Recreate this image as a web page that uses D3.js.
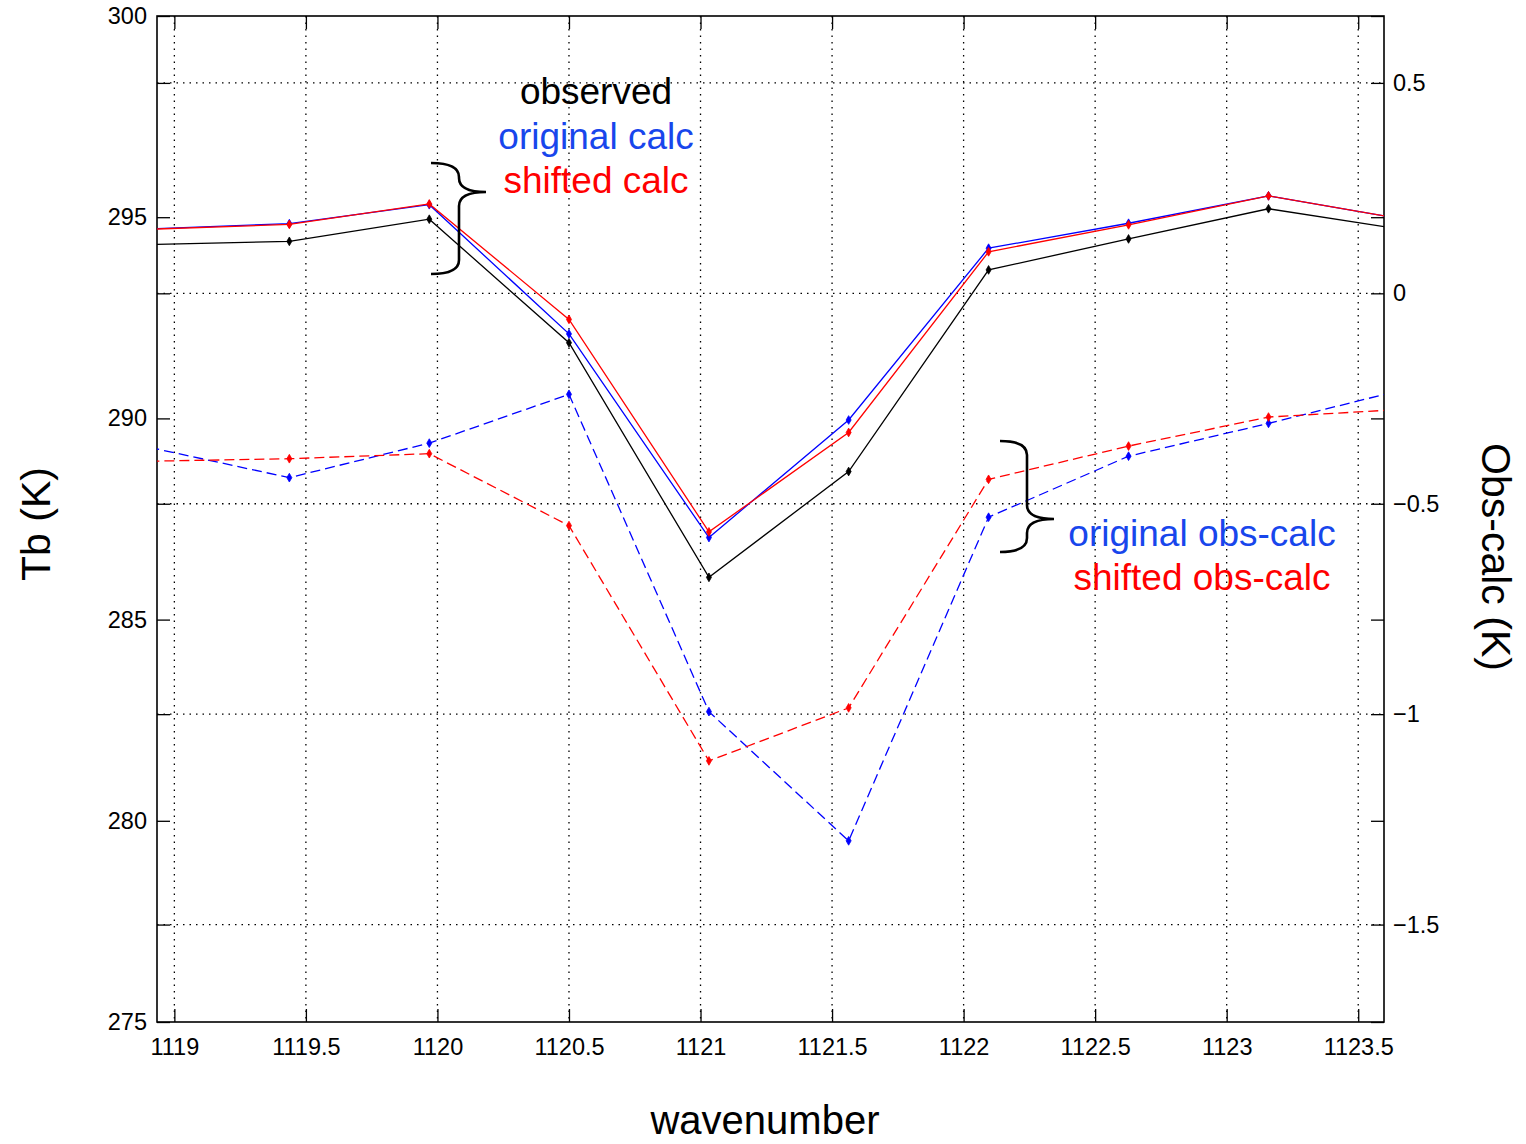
<!DOCTYPE html>
<html>
<head>
<meta charset="utf-8">
<script src="https://cdn.jsdelivr.net/npm/d3@7"></script>
<style>
  body { margin: 0; background: #fff; }
  text { font-family: "Liberation Sans", Arial, Helvetica, sans-serif; }
</style>
</head>
<body>
<svg id="chart" width="1526" height="1144"></svg>
<script>
// channel positions (cm-1)
const wavenumber = [1118.905, 1119.437, 1119.969, 1120.500, 1121.032, 1121.563, 1122.095, 1122.627, 1123.159, 1123.690];
// brightness temperatures, left axis (K)
const observed     = [294.32, 294.40, 294.95, 291.88, 286.05, 288.68, 293.69, 294.46, 295.21, 294.67];
const originalCalc = [294.71, 294.84, 295.31, 292.10, 287.04, 289.96, 294.23, 294.85, 295.53, 294.93];
const shiftedCalc  = [294.70, 294.82, 295.33, 292.46, 287.18, 289.65, 294.14, 294.81, 295.53, 294.93];
// obs - calc, right axis (K)
const originalDiff = [-0.366, -0.438, -0.356, -0.240, -0.994, -1.301, -0.532, -0.387, -0.309, -0.226];
const shiftedDiff  = [-0.399, -0.393, -0.381, -0.552, -1.111, -0.985, -0.442, -0.363, -0.294, -0.275];

const xTicks = [1119, 1119.5, 1120, 1120.5, 1121, 1121.5, 1122, 1122.5, 1123, 1123.5];
const yLeftTicks = [275, 280, 285, 290, 295, 300];
const yRightTicks = [-1.5, -1, -0.5, 0, 0.5];

const svg = d3.select("#chart");
const pLeft = 157, pRight = 1384, pTop = 16, pBottom = 1022;
const tickLen = 13;

const x = d3.scaleLinear().domain([1118.934, 1123.598]).range([pLeft, pRight]);
const yL = d3.scaleLinear().domain([275, 300]).range([pBottom, pTop]);
const yR = d3.scaleLinear().domain([-1.7315, 0.659]).range([pBottom, pTop]);

svg.append("defs").append("clipPath").attr("id", "plotclip")
  .append("rect").attr("x", pLeft).attr("y", pTop)
  .attr("width", pRight - pLeft).attr("height", pBottom - pTop);

// dotted grid: vertical at x ticks, horizontal at right-axis ticks
const grid = svg.append("g").attr("stroke", "#000").attr("stroke-width", 1.3)
  .attr("stroke-dasharray", "1.5,5");
grid.selectAll(".gx").data(xTicks).enter().append("line")
  .attr("x1", d => x(d)).attr("x2", d => x(d))
  .attr("y1", pTop).attr("y2", pBottom);
grid.selectAll(".gy").data(yRightTicks).enter().append("line")
  .attr("x1", pLeft).attr("x2", pRight)
  .attr("y1", d => yR(d)).attr("y2", d => yR(d));

// axes with inward ticks
const axisL = d3.axisLeft(yL).tickValues(yLeftTicks).tickSizeInner(-tickLen).tickSizeOuter(0).tickPadding(10).tickFormat(d3.format("d"));
const axisL2 = d3.axisRight(yL).tickValues(yLeftTicks).tickSizeInner(-tickLen).tickSizeOuter(0).tickFormat("");
const axisR = d3.axisRight(yR).tickValues(yRightTicks).tickSizeInner(-tickLen).tickSizeOuter(0).tickPadding(9)
  .tickFormat(d => d < 0 ? "\u2212" + Math.abs(d) : String(d));
const axisR2 = d3.axisLeft(yR).tickValues(yRightTicks).tickSizeInner(-tickLen).tickSizeOuter(0).tickFormat("");
const axisB = d3.axisBottom(x).tickValues(xTicks).tickSizeInner(-tickLen).tickSizeOuter(0).tickPadding(16).tickFormat(d => String(d));
const axisT = d3.axisTop(x).tickValues(xTicks).tickSizeInner(-tickLen).tickSizeOuter(0).tickFormat("");

function styleAxis(g) {
  g.select(".domain").remove();
  g.selectAll(".tick line").attr("stroke", "#000").attr("stroke-width", 1.3);
  g.selectAll(".tick text").attr("fill", "#000").style("font-size", "23.5px")
    .style("font-family", "'Liberation Sans', Arial, sans-serif");
}
svg.append("g").attr("transform", `translate(${pLeft},0)`).call(axisL).call(styleAxis);
svg.append("g").attr("transform", `translate(${pRight},0)`).call(axisL2).call(styleAxis);
svg.append("g").attr("transform", `translate(${pRight},0)`).call(axisR).call(styleAxis);
svg.append("g").attr("transform", `translate(${pLeft},0)`).call(axisR2).call(styleAxis);
svg.append("g").attr("transform", `translate(0,${pBottom})`).call(axisB).call(styleAxis);
svg.append("g").attr("transform", `translate(0,${pTop})`).call(axisT).call(styleAxis);

svg.append("rect").attr("x", pLeft).attr("y", pTop)
  .attr("width", pRight - pLeft).attr("height", pBottom - pTop)
  .attr("fill", "none").attr("stroke", "#000").attr("stroke-width", 1.6);

// series
const series = [
  { vals: observed, scale: yL, color: "#000000", dash: null },
  { vals: originalCalc, scale: yL, color: "#0000ff", dash: null },
  { vals: shiftedCalc, scale: yL, color: "#ff0000", dash: null },
  { vals: originalDiff, scale: yR, color: "#0000ff", dash: "10,5" },
  { vals: shiftedDiff, scale: yR, color: "#ff0000", dash: "10,5" }
];

const plot = svg.append("g").attr("clip-path", "url(#plotclip)");
const diamond = d3.symbol().type(d3.symbolDiamond).size(22);

series.forEach(s => {
  const pts = wavenumber.map((w, i) => [x(w), s.scale(s.vals[i])]);
  plot.append("path")
    .attr("d", d3.line()(pts))
    .attr("fill", "none")
    .attr("stroke", s.color)
    .attr("stroke-width", 1.3)
    .attr("stroke-dasharray", s.dash);
  plot.selectAll(null).data(pts).enter().append("path")
    .attr("d", diamond)
    .attr("transform", d => `translate(${d[0]},${d[1]})`)
    .attr("fill", s.color)
    .attr("stroke", s.color)
    .attr("stroke-width", 0.8);
});

// braces
function brace(x0, xs, xp, yt, ym, yb) {
  const r = 14;
  return `M${x0},${yt} Q${xs},${yt} ${xs},${yt + r} L${xs},${ym - r} Q${xs},${ym} ${xp},${ym}` +
         ` Q${xs},${ym} ${xs},${ym + r} L${xs},${yb - r} Q${xs},${yb} ${x0},${yb}`;
}
svg.append("path").attr("d", brace(431, 459, 486, 163, 192, 274))
  .attr("fill", "none").attr("stroke", "#000").attr("stroke-width", 2.6);
svg.append("path").attr("d", brace(1000, 1027, 1054, 441, 519, 552))
  .attr("fill", "none").attr("stroke", "#000").attr("stroke-width", 2.6);

// annotation labels
const notes = [
  { t: "observed", x: 596, y: 104, c: "#000000" },
  { t: "original calc", x: 596, y: 149, c: "#1846ec" },
  { t: "shifted calc", x: 596, y: 193, c: "#ff0000" },
  { t: "original obs-calc", x: 1202, y: 546, c: "#1846ec" },
  { t: "shifted obs-calc", x: 1202, y: 590, c: "#ff0000" }
];
svg.selectAll(".note").data(notes).enter().append("text")
  .attr("x", d => d.x).attr("y", d => d.y)
  .attr("text-anchor", "middle")
  .attr("fill", d => d.c)
  .style("font-size", "37px")
  .text(d => d.t);

// axis titles
svg.append("text").attr("x", 765).attr("y", 1134).attr("text-anchor", "middle")
  .style("font-size", "40px").text("wavenumber");
svg.append("text").attr("transform", "translate(50,524) rotate(-90)").attr("text-anchor", "middle")
  .style("font-size", "41px").text("Tb (K)");
svg.append("text").attr("transform", "translate(1482,557) rotate(90)").attr("text-anchor", "middle")
  .style("font-size", "41px").text("Obs-calc (K)");
</script>
</body>
</html>
